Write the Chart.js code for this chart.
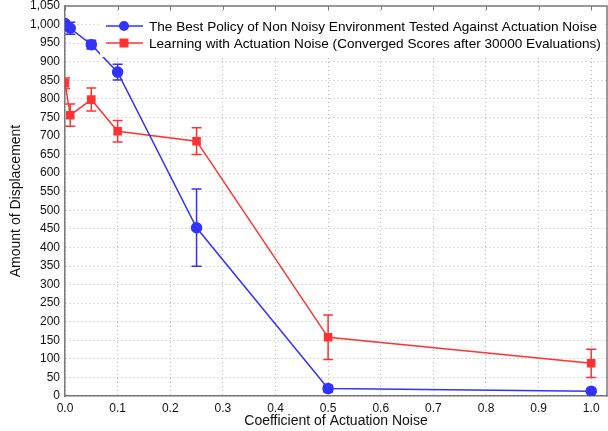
<!DOCTYPE html>
<html>
<head>
<meta charset="utf-8">
<script src="https://cdn.jsdelivr.net/npm/chart.js@4"></script>
<style>
  html, body { margin: 0; padding: 0; background: #fff; }
  #wrap { width: 608px; height: 431px; }
</style>
</head>
<body>
<div id="wrap"><canvas id="chart" width="608" height="431"></canvas></div>
<script>
// noise levels (x)
const noiseLevels = [0, 0.01, 0.05, 0.1, 0.25, 0.5, 1.0];

// best policy of non noisy environment tested against noise
const bestPolicyMean = [1003, 990, 946, 872, 453, 20, 13];
const bestPolicyErr = [6, 16, 12, 21, 104, 9, 4];

// learning with actuation noise
const learnedMean = [842, 756, 798, 713, 686, 158, 88];
const learnedErr = [14, 30, 31, 29, 36, 60, 38];

const xTicks = [0, 0.1, 0.2, 0.3, 0.4, 0.5, 0.6, 0.7, 0.8, 0.9, 1.0];
const yTicks = [0, 50, 100, 150, 200, 250, 300, 350, 400, 450, 500, 550, 600, 650, 700, 750, 800, 850, 900, 950, 1000, 1050];

const legendLabels = [
    'The Best Policy of Non Noisy Environment Tested Against Actuation Noise',
    'Learning with Actuation Noise (Converged Scores after 30000 Evaluations)'
];

const BLUE = 'rgb(51, 51, 255)';
const RED = 'rgb(255, 51, 51)';
const FONT = '"Liberation Sans", Arial, Helvetica, sans-serif';

function toPoints(xs, ys) {
    return xs.map((x, i) => ({ x: x, y: ys[i] }));
}

// error bars, frame and legend drawn on top of the data
const extrasPlugin = {
    id: 'extras',
    afterDatasetsDraw(chart) {
        const ctx = chart.ctx;
        const xs = chart.scales.x, ys = chart.scales.y;
        const area = chart.chartArea;

        // error bars, clipped to the plot like the markers
        const errs = [bestPolicyErr, learnedErr];
        ctx.save();
        ctx.beginPath();
        ctx.rect(area.left, area.top, area.right - area.left, area.bottom - area.top);
        ctx.clip();
        chart.data.datasets.forEach((ds, di) => {
            ctx.strokeStyle = ds.borderColor;
            ctx.lineWidth = 1.5;
            ds.data.forEach((p, i) => {
                const px = xs.getPixelForValue(p.x);
                const top = ys.getPixelForValue(p.y + errs[di][i]);
                const bot = ys.getPixelForValue(p.y - errs[di][i]);
                const cap = 5;
                ctx.beginPath();
                ctx.moveTo(px, top); ctx.lineTo(px, bot);
                ctx.moveTo(px - cap, top); ctx.lineTo(px + cap, top);
                ctx.moveTo(px - cap, bot); ctx.lineTo(px + cap, bot);
                ctx.stroke();
            });
        });
        ctx.restore();

        // legend box (covers grid and data like the original)
        ctx.save();
        const boxLeft = 100, boxTop = 11, boxBottom = 57;
        ctx.fillStyle = '#fff';
        ctx.fillRect(boxLeft, boxTop, area.right - boxLeft - 2, boxBottom - boxTop);
        const rows = [26, 43];
        const colors = [BLUE, RED];
        rows.forEach((y, i) => {
            ctx.strokeStyle = colors[i];
            ctx.fillStyle = colors[i];
            ctx.lineWidth = 1.5;
            ctx.beginPath();
            ctx.moveTo(106, y); ctx.lineTo(143, y);
            ctx.stroke();
            if (i === 0) {
                ctx.beginPath();
                ctx.arc(124, y, 5, 0, Math.PI * 2);
                ctx.fill();
            } else {
                ctx.fillRect(119.5, y - 4.5, 9, 9);
            }
            ctx.fillStyle = '#000';
            ctx.font = '13.6px ' + FONT;
            ctx.textBaseline = 'middle';
            ctx.fillText(legendLabels[i], 149, y + 1);
        });
        ctx.restore();

        // frame top / right and small top ticks
        ctx.save();
        ctx.strokeStyle = '#7a7a7a';
        ctx.lineWidth = 1.5;
        ctx.beginPath();
        ctx.moveTo(area.left, area.top); ctx.lineTo(area.right, area.top);
        ctx.lineTo(area.right, area.bottom);
        ctx.stroke();
        ctx.lineWidth = 1;
        ctx.beginPath();
        xTicks.forEach(t => {
            const px = Math.round(xs.getPixelForValue(t)) + 0.5;
            ctx.moveTo(px, area.top); ctx.lineTo(px, area.top + 4);
        });
        ctx.stroke();
        ctx.restore();
    }
};

new Chart(document.getElementById('chart'), {
    type: 'scatter',
    data: {
        datasets: [
            {
                label: legendLabels[0],
                data: toPoints(noiseLevels, bestPolicyMean),
                showLine: true,
                clip: 0,
                borderColor: BLUE,
                backgroundColor: BLUE,
                borderWidth: 1.5,
                pointStyle: 'circle',
                pointRadius: 5,
                pointHoverRadius: 5
            },
            {
                label: legendLabels[1],
                data: toPoints(noiseLevels, learnedMean),
                showLine: true,
                clip: 0,
                borderColor: RED,
                backgroundColor: RED,
                borderWidth: 1.5,
                pointStyle: 'rect',
                pointRadius: 5,
                pointHoverRadius: 5
            }
        ]
    },
    options: {
        responsive: false,
        animation: false,
        events: [],
        layout: { autoPadding: false, padding: { top: 6, right: 1, left: 0, bottom: 0 } },
        plugins: {
            legend: { display: false },
            tooltip: { enabled: false }
        },
        scales: {
            x: {
                type: 'linear',
                min: 0,
                max: 1.03,
                afterBuildTicks: s => { s.ticks = xTicks.map(v => ({ value: v })); },
                afterFit: s => { s.height = 35; s.paddingLeft = 0; s.paddingRight = 0; },
                ticks: {
                    color: '#111',
                    font: { family: FONT, size: 12 },
                    padding: 5,
                    maxRotation: 0,
                    callback: v => Number(v).toFixed(1)
                },
                grid: { color: '#b8b8b8', drawTicks: false },
                border: { color: '#7a7a7a', width: 1.5, dash: [1, 3] },
                title: {
                    display: true,
                    text: 'Coefficient of Actuation Noise',
                    color: '#111',
                    font: { family: FONT, size: 14 },
                    padding: { top: 0, bottom: 1.5 }
                }
            },
            y: {
                min: 0,
                max: 1050,
                afterBuildTicks: s => { s.ticks = yTicks.map(v => ({ value: v })); },
                afterFit: s => { s.width = 65; s.paddingTop = 0; s.paddingBottom = 0; },
                ticks: {
                    color: '#111',
                    font: { family: FONT, size: 12 },
                    padding: 5,
                    callback: v => v.toLocaleString('en-US')
                },
                grid: { color: '#b8b8b8', drawTicks: false },
                border: { color: '#7a7a7a', width: 1.5, dash: [1, 3] },
                title: {
                    display: true,
                    text: 'Amount of Displacement',
                    color: '#111',
                    font: { family: FONT, size: 14 },
                    padding: { top: 7.5, bottom: 0 }
                }
            }
        }
    },
    plugins: [extrasPlugin]
});
</script>
</body>
</html>
